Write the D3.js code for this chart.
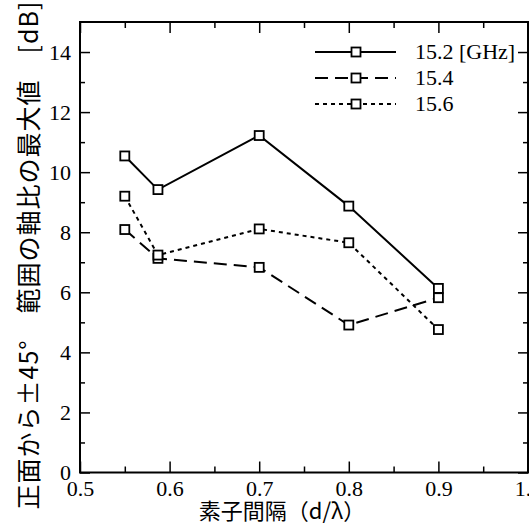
<!DOCTYPE html>
<html>
<head>
<meta charset="utf-8">
<script src="https://cdn.jsdelivr.net/npm/d3@7"></script>
<style>
  body { margin: 0; background: #fff; }
  svg { display: block; }
</style>
</head>
<body>
<svg width="529" height="531"></svg>
<script>
// data
const spacing = [0.55, 0.587, 0.7, 0.8, 0.9];
const f152 = [10.54, 9.42, 11.22, 8.87, 6.13];
const f154 = [8.09, 7.13, 6.83, 4.91, 5.82];
const f156 = [9.2, 7.24, 8.11, 7.65, 4.76];
const seriesNames = ["15.2 [GHz]", "15.4", "15.6"];
const xTicks = [0.5, 0.6, 0.7, 0.8, 0.9, 1.0];
const yTicks = [0, 2, 4, 6, 8, 10, 12, 14];

const serif = "'Liberation Serif', 'DejaVu Serif', serif";
const cjk = "'Noto Sans CJK JP', 'Noto Sans CJK SC', sans-serif";

const plotL = 80, plotR = 528, plotT = 22, plotB = 472.5;

const svg = d3.select("svg");

const x = d3.scaleLinear().domain([0.5, 1.0]).range([plotL, plotR]);
const y = d3.scaleLinear().domain([0, 15]).range([plotB, plotT]);

const xMinor = [0.55, 0.65, 0.75, 0.85, 0.95];
const yMinor = [1, 3, 5, 7, 9, 11, 13];

// bottom axis, ticks pointing inward
svg.append("g")
    .attr("transform", `translate(0,${plotB})`)
    .call(d3.axisBottom(x).tickValues(xTicks).tickSize(-11).tickPadding(8)
        .tickFormat(d => d3.format(".1f")(d)))
    .call(g => g.select(".domain").remove())
    .selectAll("text")
    .style("font-family", serif).style("font-size", "22px");

svg.append("g")
    .attr("transform", `translate(0,${plotB})`)
    .call(d3.axisBottom(x).tickValues(xMinor).tickSize(-6).tickFormat(""))
    .call(g => g.select(".domain").remove());

// top axis
svg.append("g")
    .attr("transform", `translate(0,${plotT})`)
    .call(d3.axisTop(x).tickValues(xTicks).tickSize(-11).tickFormat(""))
    .call(g => g.select(".domain").remove());
svg.append("g")
    .attr("transform", `translate(0,${plotT})`)
    .call(d3.axisTop(x).tickValues(xMinor).tickSize(-6).tickFormat(""))
    .call(g => g.select(".domain").remove());

// left axis
svg.append("g")
    .attr("transform", `translate(${plotL},0)`)
    .call(d3.axisLeft(y).tickValues(yTicks).tickSize(-10).tickPadding(9))
    .call(g => g.select(".domain").remove())
    .selectAll("text")
    .style("font-family", serif).style("font-size", "22px");
svg.append("g")
    .attr("transform", `translate(${plotL},0)`)
    .call(d3.axisLeft(y).tickValues(yMinor).tickSize(-5).tickFormat(""))
    .call(g => g.select(".domain").remove());

// right axis
svg.append("g")
    .attr("transform", `translate(${plotR},0)`)
    .call(d3.axisRight(y).tickValues(yTicks).tickSize(-10).tickFormat(""))
    .call(g => g.select(".domain").remove());
svg.append("g")
    .attr("transform", `translate(${plotR},0)`)
    .call(d3.axisRight(y).tickValues(yMinor).tickSize(-5).tickFormat(""))
    .call(g => g.select(".domain").remove());

svg.selectAll(".tick line").attr("stroke", "#000").attr("stroke-width", 1.5);

// frame
svg.append("rect")
    .attr("x", plotL).attr("y", plotT)
    .attr("width", plotR - plotL).attr("height", plotB - plotT)
    .attr("fill", "none").attr("stroke", "#000").attr("stroke-width", 2);

// series
const series = [
    { name: seriesNames[0], values: f152, dash: null },
    { name: seriesNames[1], values: f154, dash: "13,7" },
    { name: seriesNames[2], values: f156, dash: "4,4" }
];

const line = d3.line()
    .x(d => x(d[0]))
    .y(d => y(d[1]));

const ms = 9;

series.forEach(s => {
    const pts = spacing.map((v, i) => [v, s.values[i]]);
    svg.append("path")
        .datum(pts)
        .attr("fill", "none")
        .attr("stroke", "#000")
        .attr("stroke-width", 2)
        .attr("stroke-dasharray", s.dash)
        .attr("d", line);
    svg.append("g").selectAll("rect")
        .data(pts)
        .join("rect")
        .attr("x", d => x(d[0]) - ms / 2)
        .attr("y", d => y(d[1]) - ms / 2)
        .attr("width", ms).attr("height", ms)
        .attr("fill", "#fff")
        .attr("stroke", "#000")
        .attr("stroke-width", 1.8);
});

// legend
const legend = svg.append("g");
series.forEach((s, i) => {
    const ly = 52 + i * 26;
    legend.append("line")
        .attr("x1", 315).attr("x2", 396)
        .attr("y1", ly).attr("y2", ly)
        .attr("stroke", "#000").attr("stroke-width", 2)
        .attr("stroke-dasharray", s.dash);
    legend.append("rect")
        .attr("x", 356 - ms / 2).attr("y", ly - ms / 2)
        .attr("width", ms).attr("height", ms)
        .attr("fill", "#fff").attr("stroke", "#000").attr("stroke-width", 1.8);
    legend.append("text")
        .attr("x", 415).attr("y", ly + 7)
        .style("font-family", serif).style("font-size", "22px")
        .text(s.name);
});

// axis titles
svg.append("text")
    .attr("x", 282).attr("y", 519)
    .attr("text-anchor", "middle")
    .style("font-family", cjk).style("font-size", "22px")
    .text("素子間隔（d/λ）");

svg.append("text")
    .attr("transform", "rotate(-90)")
    .attr("x", -255).attr("y", 38)
    .attr("text-anchor", "middle")
    .style("font-family", cjk).style("font-size", "25px")
    .style("letter-spacing", "1px")
    .text("正面から±45°　範囲の軸比の最大値　[dB]");
</script>
</body>
</html>
